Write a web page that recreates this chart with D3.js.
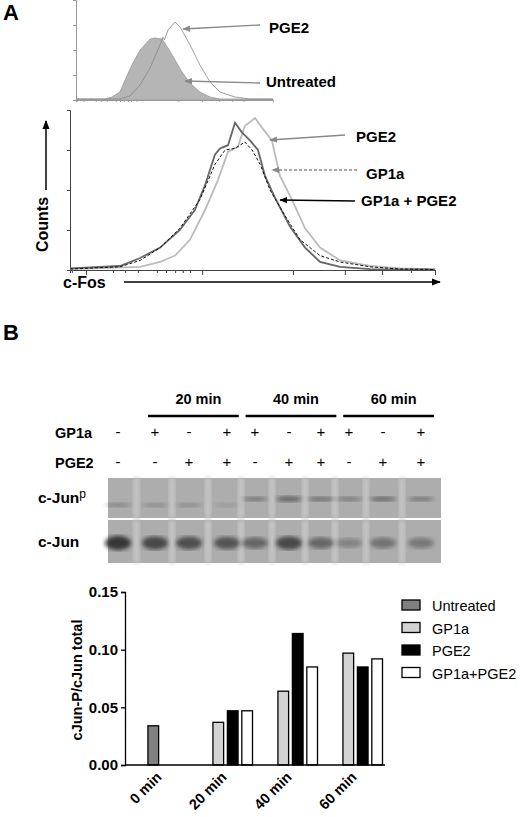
<!DOCTYPE html>
<html>
<head>
<meta charset="utf-8">
<script src="https://cdn.jsdelivr.net/npm/d3@7"></script>
<style>
  body { margin: 0; background: #fff; }
  text { font-family: "Liberation Sans", Arial, sans-serif; }
</style>
</head>
<body>
<script>
// ---- panel A, top histogram (channel, counts)
const topUntreated = [[0,1],[14.7,1],[18.3,3],[22.3,8],[24.9,20],[28.4,35],[32.5,50],[37.6,61],[40.1,62],[43.7,61],[46.7,52],[50.3,40],[53.8,28],[57.9,17],[62.9,8],[68,3],[73.1,1],[100,1]];
const topPGE2 = [[0,1],[22.3,1],[27.4,4],[32.5,15],[37.6,32],[42.6,55],[44.2,63],[44.9,60],[46.7,70],[50.3,78],[52.8,73],[57.9,55],[62.9,35],[68,18],[73.1,8],[80.7,3],[88.3,1],[100,1]];

// ---- panel A, bottom histogram
const botCombo = [[0,1],[13.7,2.5],[19.2,7.5],[24.7,14],[30.1,25],[34.2,37.5],[37,53],[39.7,72],[41.1,76],[43.3,78],[45.2,92],[47.1,86],[49.3,81],[51.5,75],[53.4,59],[56.2,45],[60.3,27],[64.4,14],[68.5,5],[74,2],[82.2,0.6],[100,0.3]];
const botGP1a = [[0,0.6],[13.7,2],[19.2,6],[24.7,14],[30.1,26],[35.6,44],[39.7,66],[42.5,75],[45.2,76],[47.9,80],[49.9,75],[52.1,66],[54.8,50],[58.9,34],[63,19],[68.5,9],[74,5],[82.2,2],[90.4,0.6],[100,0.3]];
const botPGE2 = [[0,0.6],[19.2,2],[24.7,5],[28.8,9],[32.9,19],[37,37.5],[40.5,56],[43.3,74],[46,77],[47.9,90],[50.7,95],[52.6,89],[55.3,81],[57.5,59],[60.8,44],[64.4,26],[68.5,14],[74,6],[82.2,2.5],[90.4,1],[98.6,0.6]];
const botTicks = [0.5,4.4,11.8,15.1,18.6,23.8,26.3,28.8,30.9,32.9,36.2,61.1,75.3,85.5,93.4,100];
const botMajor = [4.4,36.2,61.1,75.3,85.5,100];

// ---- panel B, blot
const timeLabels = ["20 min","40 min","60 min"];
const gp1aSigns = ["-","+","-","+","+","-","+","+","-","+"];
const pge2Signs = ["-","-","+","+","-","+","+","-","+","+"];
const junPBand = [0.35,0.3,0.3,0.2,0.5,0.7,0.55,0.45,0.6,0.5];
const junTotalBand = [1,0.85,0.8,0.75,0.6,0.85,0.6,0.35,0.5,0.45];

// ---- panel B, bar chart
const times = ["0 min","20 min","40 min","60 min"];
const series = ["Untreated","GP1a","PGE2","GP1a+PGE2"];
const colors = ["#808080","#d3d3d3","#000000","#ffffff"];
const untreated = [0.034,null,null,null];
const gp1a = [null,0.037,0.064,0.097];
const pge2 = [null,0.047,0.114,0.085];
const both = [null,0.047,0.085,0.092];
const yTicks = [0,0.05,0.10,0.15];

const svg = d3.select("body").append("svg").attr("width",520).attr("height",817);

svg.append("text").attr("x",3).attr("y",20).attr("font-size",22).attr("font-weight","bold").text("A");
svg.append("text").attr("x",3).attr("y",340).attr("font-size",22).attr("font-weight","bold").text("B");

const defs = svg.append("defs");
function arrowMarker(id, color) {
  defs.append("marker").attr("id",id).attr("viewBox","0 0 10 10").attr("refX",9).attr("refY",5)
    .attr("markerWidth",6).attr("markerHeight",6).attr("orient","auto")
    .append("path").attr("d","M0,1 L10,5 L0,9 Z").attr("fill",color);
}
arrowMarker("agray","#888");
arrowMarker("ablack","#000");
defs.append("filter").attr("id","blur").append("feGaussianBlur").attr("stdDeviation",2.2);

// ---- top histogram
const xT = d3.scaleLinear().domain([0,100]).range([76,273]);
const yT = d3.scaleLinear().domain([0,100]).range([100,0]);
const areaT = d3.area().x(d=>xT(d[0])).y0(yT(0)).y1(d=>yT(d[1]));
const lineT = d3.line().x(d=>xT(d[0])).y(d=>yT(d[1]));
svg.append("path").attr("d",areaT(topUntreated)).attr("fill","#b5b5b5").attr("stroke","#999").attr("stroke-width",0.8);
svg.append("path").attr("d",lineT(topPGE2)).attr("fill","none").attr("stroke","#888").attr("stroke-width",0.8);
svg.append("g").attr("transform","translate(76,0)").call(d3.axisLeft(yT).tickValues([25,50,75]).tickSize(3).tickFormat(""))
  .call(g=>g.selectAll("line,path").attr("stroke","#999"));
svg.append("g").attr("transform","translate(0,100)").call(d3.axisBottom(xT).tickValues(botTicks.map(v=>v*0.85)).tickSize(2).tickFormat(""))
  .call(g=>g.selectAll("line,path").attr("stroke","#999"));

// ---- bottom histogram
const xB = d3.scaleLinear().domain([0,100]).range([70,435]);
const yB = d3.scaleLinear().domain([0,100]).range([270,110]);
const lineB = d3.line().x(d=>xB(d[0])).y(d=>yB(d[1]));
svg.append("g").attr("transform","translate(70,0)").call(d3.axisLeft(yB).tickValues([25,50,75,100]).tickSize(3).tickFormat(""))
  .call(g=>g.selectAll("line,path").attr("stroke","#444"));
const xAx = svg.append("g").attr("transform","translate(0,270)").call(d3.axisBottom(xB).tickValues(botTicks).tickSize(3).tickFormat(""));
xAx.selectAll(".tick line").attr("y2",d=>botMajor.includes(d)?5:3);
xAx.selectAll("line,path").attr("stroke","#444");
svg.append("path").attr("d",lineB(botPGE2)).attr("fill","none").attr("stroke","#bbb").attr("stroke-width",1.8);
svg.append("path").attr("d",lineB(botCombo)).attr("fill","none").attr("stroke","#666").attr("stroke-width",1.8);
svg.append("path").attr("d",lineB(botGP1a)).attr("fill","none").attr("stroke","#111").attr("stroke-width",1).attr("stroke-dasharray","3,2");

// axis annotations
svg.append("text").attr("transform","translate(48,252) rotate(-90)").attr("font-size",16).attr("font-weight","bold").text("Counts");
svg.append("line").attr("x1",46).attr("x2",46).attr("y1",190).attr("y2",121).attr("stroke","#000").attr("stroke-width",1.5).attr("marker-end","url(#ablack)");
svg.append("text").attr("x",63).attr("y",288).attr("font-size",16).attr("font-weight","bold").text("c-Fos");
svg.append("line").attr("x1",124).attr("x2",440).attr("y1",282).attr("y2",282).attr("stroke","#000").attr("stroke-width",1.5).attr("marker-end","url(#ablack)");

// callouts
const callouts = [
  {t:"PGE2", tx:269, ty:33, x1:260, x2:183, y1:25, y2:29, c:"#888", m:"agray", dash:null},
  {t:"Untreated", tx:266, ty:87, x1:260, x2:185, y1:83, y2:81, c:"#888", m:"agray", dash:null},
  {t:"PGE2", tx:356, ty:142, x1:345, x2:270, y1:135, y2:140, c:"#888", m:"agray", dash:null},
  {t:"GP1a", tx:366, ty:179, x1:357, x2:272, y1:170, y2:170, c:"#888", m:"agray", dash:"3,2"},
  {t:"GP1a + PGE2", tx:361, ty:206, x1:355, x2:280, y1:201, y2:200, c:"#000", m:"ablack", dash:null}
];
callouts.forEach(c=>{
  svg.append("text").attr("x",c.tx).attr("y",c.ty).attr("font-size",15).attr("font-weight","bold").text(c.t);
  svg.append("line").attr("x1",c.x1).attr("x2",c.x2).attr("y1",c.y1).attr("y2",c.y2)
    .attr("stroke",c.c).attr("stroke-width",1.3).attr("stroke-dasharray",c.dash).attr("marker-end",`url(#${c.m})`);
});

// ---- blot
const laneX = [118,155,189,227,255,289,321,349,383,421];
const lane = d3.scaleOrdinal().domain(d3.range(10)).range(laneX);
const tg = d3.scaleBand().domain(timeLabels).range([148,434]).paddingInner(0.07);
timeLabels.forEach(t=>{
  svg.append("text").attr("x",tg(t)+tg.bandwidth()/2+5).attr("y",404).attr("text-anchor","middle").attr("font-size",14.5).attr("font-weight","bold").text(t);
  svg.append("line").attr("x1",tg(t)).attr("x2",tg(t)+tg.bandwidth()).attr("y1",416).attr("y2",416).attr("stroke","#000").attr("stroke-width",2.5);
});
svg.append("text").attr("x",55).attr("y",438).attr("font-size",14.5).attr("font-weight","bold").text("GP1a");
svg.append("text").attr("x",55).attr("y",468).attr("font-size",14.5).attr("font-weight","bold").text("PGE2");
[[gp1aSigns,437],[pge2Signs,467]].forEach(([s,y])=>{
  svg.selectAll(null).data(s).enter().append("text").attr("x",(d,i)=>lane(i)).attr("y",y)
    .attr("text-anchor","middle").attr("font-size",15).text(d=>d);
});
const panels = [{y:478,h:40,band:junPBand,by:i=>i<4?505:499,bh:2.5,label:"c-Jun",sup:"p",ly:503},
                {y:520,h:43,band:junTotalBand,by:i=>543,bh:6,label:"c-Jun",sup:null,ly:547}];
panels.forEach(p=>{
  svg.append("rect").attr("x",108).attr("y",p.y).attr("width",333).attr("height",p.h).attr("fill","#adadad");
  // lighter gaps between lanes
  svg.selectAll(null).data(d3.range(9)).enter().append("rect")
    .attr("x",i=>(lane(i)+lane(i+1))/2-3).attr("y",p.y).attr("width",6).attr("height",p.h)
    .attr("fill","#c6c6c6").attr("filter","url(#blur)");
  svg.selectAll(null).data(p.band).enter().append("ellipse")
    .attr("cx",(d,i)=>lane(i)).attr("cy",(d,i)=>p.by(i)).attr("rx",13).attr("ry",d=>p.bh*(0.6+d*0.6))
    .attr("fill","#222").attr("opacity",d=>d*0.85).attr("filter","url(#blur)");
  const t = svg.append("text").attr("x",38).attr("y",p.ly).attr("font-size",15.5).attr("font-weight","bold").text(p.label);
  if (p.sup) t.append("tspan").attr("dy",-5).attr("font-size",12).attr("font-weight","normal").text(p.sup);
});

// ---- bar chart
const yBar = d3.scaleLinear().domain([0,0.15]).range([765,592]);
const x0 = d3.scaleBand().domain(times).range([115.5,375.5]);
const x1 = d3.scaleBand().domain(series).range([18,72]).paddingInner(0.26);
const values = [untreated,gp1a,pge2,both];
const bars = [];
series.forEach((s,si)=>values[si].forEach((v,ti)=>{
  if (v!==null) bars.push({s:s,si:si,t:times[ti],v:v});
}));
svg.selectAll(".bar").data(bars).enter().append("rect")
  .attr("x",d=>x0(d.t)+x1(d.s==="Untreated"?"GP1a":d.s))   // lone 0 min bar sits in the first occupied slot
  .attr("y",d=>yBar(d.v)).attr("width",x1.bandwidth()).attr("height",d=>yBar(0)-yBar(d.v))
  .attr("fill",d=>colors[d.si]).attr("stroke","#000").attr("stroke-width",1.3);
svg.append("g").attr("transform","translate(125,0)")
  .call(d3.axisLeft(yBar).tickValues(yTicks).tickFormat(d3.format(".2f")).tickSize(4))
  .call(g=>g.selectAll("text").attr("font-size",15).attr("font-weight","bold").attr("font-family","Liberation Sans, Arial"))
  .call(g=>g.selectAll("line,path").attr("stroke-width",1.3));
svg.append("line").attr("x1",125).attr("x2",385).attr("y1",765).attr("y2",765).attr("stroke","#000").attr("stroke-width",1.3);
svg.selectAll(".xl").data(times).enter().append("text")
  .attr("transform",d=>`translate(${x0(d)+47},${778}) rotate(-45)`)
  .attr("text-anchor","end").attr("font-size",14.5).attr("font-weight","bold").text(d=>d);
svg.append("text").attr("transform","translate(82,680) rotate(-90)").attr("text-anchor","middle")
  .attr("font-size",14.5).attr("font-weight","bold").text("cJun-P/cJun total");
const lg = svg.selectAll(".lg").data(series).enter().append("g")
  .attr("transform",(d,i)=>`translate(402,${600+i*22.5})`);
lg.append("rect").attr("width",18).attr("height",10).attr("fill",(d,i)=>colors[i]).attr("stroke","#000").attr("stroke-width",1.3);
lg.append("text").attr("x",30).attr("y",11).attr("font-size",14.5).text(d=>d);
</script>
</body>
</html>
